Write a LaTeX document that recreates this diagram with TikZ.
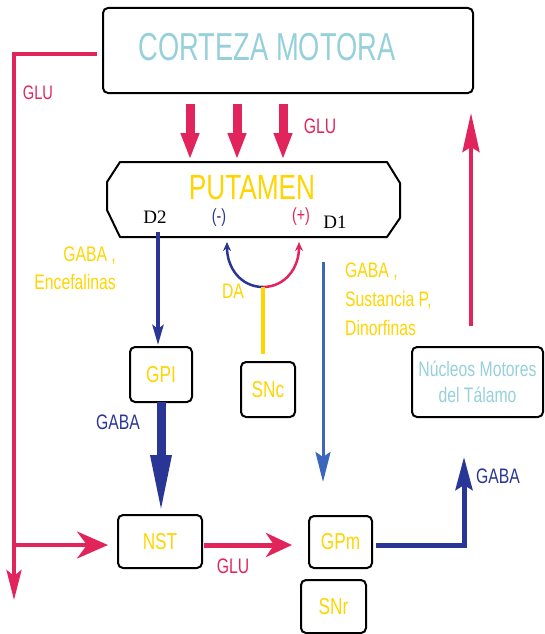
\documentclass[tikz,border=0pt]{standalone}
\usepackage{fontspec}
\setmainfont{Liberation Sans}[FakeStretch=0.75]
\newfontfamily\dfont{Liberation Serif}
\usetikzlibrary{arrows.meta}
\definecolor{glured}{RGB}{226,36,92}
\definecolor{gold}{RGB}{255,212,0}
\definecolor{paleteal}{RGB}{150,208,218}
\definecolor{gabablue}{RGB}{42,54,150}
\definecolor{dblue}{RGB}{60,102,190}

\begin{document}
\begin{tikzpicture}[x=1pt,y=-1pt,
    box/.style={draw=black,line width=2pt,rounded corners=5pt,inner sep=0pt,outer sep=0pt,
        text=gold,font=\fontsize{23}{23}\selectfont},
    lab/.style={inner sep=0pt,font=\fontsize{21}{27.5}\selectfont},
    redline/.style={glured,line width=4pt}]
    \useasboundingbox (0,0) rectangle (545,634);

    \node[box,minimum width=370pt,minimum height=85pt] (C) at (288,50.5) {};
    \node[lab,text=paleteal,font=\addfontfeatures{FakeStretch=0.7}\fontsize{39}{40}\selectfont] (Ct) at (267,47) {CORTEZA MOTORA};

    \node[minimum width=293pt,minimum height=75pt,inner sep=0pt,outer sep=0pt] (P) at (253.5,199.5) {};
    \draw[line width=2pt,line join=round] ([xshift=13pt]P.north west) -- ([xshift=-13pt]P.north east)
        -- ([yshift=-21pt]P.north east) -- ([yshift=19pt]P.south east) -- ([xshift=-13pt]P.south east)
        -- ([xshift=13pt]P.south west) -- ([yshift=27pt]P.south west) -- ([yshift=-20pt]P.north west) -- cycle;
    \node[lab,text=gold,font=\fontsize{35}{35}\selectfont] (Pt) at (252,188) {PUTAMEN};
    \node[inner sep=0pt,font=\dfont\fontsize{19}{19}\selectfont] (D2) at (155,217) {D2};
    \node[inner sep=0pt,font=\dfont\fontsize{19}{19}\selectfont] (D1) at (335,222) {D1};
    \node[inner sep=0pt,text=gabablue,font=\fontsize{19}{19}\selectfont] (neg) at (219,218) {(-)};
    \node[inner sep=0pt,text=glured,font=\fontsize{19}{19}\selectfont] (pos) at (301,217) {(+)};

    \node[box,minimum width=62pt,minimum height=55pt] (GPI) at (161,374.5) {GPI};
    \node[box,minimum width=54pt,minimum height=55pt] (SNc) at (268,389.5) {SNc};
    \node[box,minimum width=84pt,minimum height=53pt] (NST) at (160,541.5) {NST};
    \node[box,minimum width=63pt,minimum height=52pt] (GPm) at (340.5,542) {GPm};
    \node[box,minimum width=65pt,minimum height=53pt] (SNr) at (333.5,606.5) {SNr};
    \node[box,minimum width=131pt,minimum height=70pt,align=center,text=paleteal,
        font=\fontsize{21}{25.5}\selectfont] (T) at (477.5,382) {Núcleos Motores\\del Tálamo};

    \node[lab,text=glured,font=\fontsize{19.5}{20}\selectfont] (glu1) at (38,93) {GLU};
    \node[lab,text=glured] (glu2) at (320,126) {GLU};
    \node[lab,text=glured] (glu3) at (233,566) {GLU};
    \node[lab,text=gold,align=right,anchor=east] (enc) at (116,268.5) {GABA ,\\Encefalinas};
    \node[lab,text=gold,align=left,anchor=west,font=\fontsize{21}{29}\selectfont] (sus) at (345,299.5) {GABA ,\\Sustancia P,\\Dinorfinas};
    \node[lab,text=gold] (dal) at (233,291) {DA};
    \node[lab,text=gabablue] (gaba1) at (118,422) {GABA};
    \node[lab,text=gabablue] (gaba2) at (498,476) {GABA};

    \coordinate (gl) at (14,54);
    \coordinate (gb) at (14,545);
    \coordinate (ge) at (14,600);
    \coordinate (tu) at (471,113);
    \coordinate (gu) at (464,457);
    \coordinate (dab) at (263,287);
    \coordinate (dam) at (227,242);
    \coordinate (dap) at (299,242);

    \draw[redline,shorten <=6pt,-{Stealth[length=30pt,width=15pt,inset=6pt]}] (C.west |- gl) -- (gl) -- (ge);
    \draw[redline,shorten >=10pt,-{Stealth[length=31pt,width=27pt,inset=10pt]}] (gb) -- (NST.west |- gb);
    \foreach \x in {190,237,283}
        \draw[glured,line width=9pt,shorten <=11pt,shorten >=2pt,-{Triangle[length=27pt,width=17pt]}] (\x,0 |- C.south) -- (\x,0 |- P.north);
    \draw[redline,shorten <=21pt,-{Stealth[length=39pt,width=17pt,inset=5pt]}] (471,0 |- T.north) -- (tu);

    \draw[gabablue,line width=4pt,shorten <=-5pt,shorten >=2pt,-{Stealth[length=20pt,width=11pt,inset=4pt]}] (158,0 |- P.south) -- (158,0 |- GPI.north);
    \draw[gabablue,line width=9pt,-{Triangle[length=60pt,width=19pt]}] (GPI.south) -- (GPI.south |- NST.north);
    \draw[dblue,line width=3pt,shorten <=25pt,shorten >=34pt,-{Stealth[length=30pt,width=15pt,inset=5pt]}] (323,0 |- P.south) -- (323,0 |- GPm.north);
    \draw[glured,line width=5pt,shorten <=2pt,shorten >=17pt,-{Stealth[length=26pt,width=24pt,inset=8pt]}] (NST.east |- gb) -- (GPm.west |- gb);
    \draw[gabablue,line width=5pt,shorten <=4pt,-{Stealth[length=33pt,width=17pt,inset=5pt]}] (GPm.east |- gb) -- (gb -| gu) -- (gu);

    \draw[gabablue,line width=2.5pt,-{Stealth[length=9pt,width=8pt]}] (dab) .. controls (241,287) and (227,268) .. (dam);
    \draw[glured,line width=2.5pt,-{Stealth[length=9pt,width=8pt]}] (dab) .. controls (285,287) and (299,268) .. (dap);
    \draw[gold,line width=3.5pt,shorten >=8pt] (dab) -- (dab |- SNc.north);
\end{tikzpicture}
\end{document}
